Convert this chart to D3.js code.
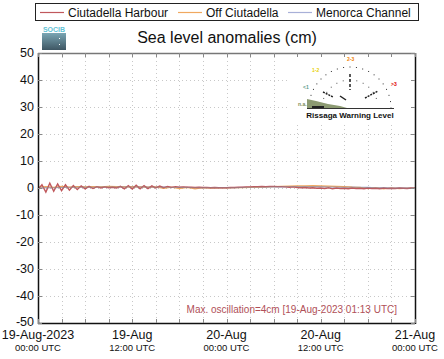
<!DOCTYPE html>
<html>
<head>
<meta charset="utf-8">
<script src="https://cdn.jsdelivr.net/npm/d3@7"></script>
<style>
  html, body { margin: 0; padding: 0; background: #fff; }
  svg { display: block; font-family: "Liberation Sans", Arial, sans-serif; }
</style>
</head>
<body>
<svg id="chart" width="444" height="359"></svg>
<script>
// series names and colours
const seriesNames = ['Ciutadella Harbour', 'Off Ciutadella', 'Menorca Channel']
const seriesColors = ['#c0585c', '#f0a860', '#a8b0d8']

// hours since 19-Aug-2023 00:00 UTC
const harbourHours = d3.range(0, 48.01, 0.5)
const hourlyHours = d3.range(0, 49, 1)

// sea level anomaly (cm), half-hourly
const harbourLevel = [
  -0.5, 1.2, -1.5, 1.8, -1.2, 1.5,
  -1.0, 1.2, -0.8, 0.9, -0.6, 0.8,
  -0.3, 0.6, -0.2, 0.5, 0.0, 0.4,
  0.1, 0.3, 0.0, 0.6, -0.3, 0.9,
  -0.4, 1.0, -0.3, 0.9, -0.2, 0.8,
  0.0, 0.7, 0.1, 0.6, 0.2, 0.5,
  0.3, 0.4, 0.3, 0.3, 0.2, 0.3,
  0.2, 0.2, 0.1, 0.2, 0.1, 0.1,
  0.1, 0.2, 0.2, 0.3, 0.3, 0.4,
  0.4, 0.5, 0.5, 0.6, 0.5, 0.6,
  0.6, 0.5, 0.5, 0.4, 0.3, 0.4,
  0.2, 0.1, 0.2, 0.0, 0.1, -0.1,
  0.0, -0.2, 0.1, -0.3, 0.0, -0.2,
  -0.1, -0.3, 0.0, -0.2, -0.1, -0.3,
  0.0, -0.2, -0.1, -0.3, 0.0, -0.2,
  -0.1, -0.2, 0.0, -0.1, -0.2, 0.0,
  -0.1
]
// hourly
const offLevel = [
  0.3, 0.5, 0.2, 0.6, 0.3, 0.5,
  0.4, 0.5, 0.4, 0.6, 0.5, 0.4,
  0.5, 0.4, 0.3, 0.4, -0.1, 0.3,
  -0.2, 0.2, -0.3, 0.1, -0.1, 0.0,
  0.0, 0.1, 0.1, 0.2, 0.3, 0.4,
  0.5, 0.6, 0.7, 0.8, 0.8, 0.9,
  0.8, 0.7, 0.6, 0.5, 0.3, 0.2,
  -0.2, 0.1, -0.3, 0.0, -0.2, -0.1,
  0.0
]
const channelLevel = [
  0.0, 0.1, 0.1, 0.2, 0.2, 0.3,
  0.3, 0.3, 0.4, 0.4, 0.4, 0.4,
  0.4, 0.4, 0.3, 0.3, 0.3, 0.2,
  0.2, 0.2, 0.1, 0.1, 0.1, 0.1,
  0.1, 0.1, 0.2, 0.2, 0.3, 0.3,
  0.4, 0.4, 0.5, 0.5, 0.5, 0.5,
  0.5, 0.4, 0.4, 0.3, 0.3, 0.2,
  0.2, 0.1, 0.1, 0.0, 0.0, 0.0,
  0.0
]

const yTicks = [-50, -40, -30, -20, -10, 0, 10, 20, 30, 40, 50]
const xTicks = [0, 12, 24, 36, 48]
const xTickDates = ['19-Aug-2023', '19-Aug', '20-Aug', '20-Aug', '21-Aug']
const xTickTimes = ['00:00 UTC', '12:00 UTC', '00:00 UTC', '12:00 UTC', '00:00 UTC']
const minorHours = d3.range(0, 49, 3)

const titleText = 'Sea level anomalies (cm)'
const noteText = 'Max. oscillation=4cm [19-Aug-2023 01:13 UTC]'

const svg = d3.select('#chart')
const margin = {left: 38, right: 29, top: 53, bottom: 36}
const W = 444, H = 359

const x = d3.scaleLinear().domain([0, 48]).range([margin.left, W - margin.right])
const y = d3.scaleLinear().domain([-50, 50]).range([H - margin.bottom, margin.top])

// grid
const grid = svg.append('g').attr('stroke', '#c8c8c8').attr('stroke-width', 1).attr('stroke-dasharray', '1,3')
grid.selectAll('.gx').data(minorHours.slice(1, -1)).join('line')
  .attr('x1', d => Math.round(x(d)) + 0.5).attr('x2', d => Math.round(x(d)) + 0.5)
  .attr('y1', y(50)).attr('y2', y(-50))
grid.selectAll('.gy').data(yTicks.slice(1, -1)).join('line')
  .attr('y1', d => Math.round(y(d)) + 0.5).attr('y2', d => Math.round(y(d)) + 0.5)
  .attr('x1', x(0)).attr('x2', x(48))

// series
const line = d3.line().x(d => x(d[0])).y(d => y(d[1]))
const seriesData = [
  d3.zip(harbourHours, harbourLevel),
  d3.zip(hourlyHours, offLevel),
  d3.zip(hourlyHours, channelLevel)
]
const drawOrder = [2, 1, 0]
svg.append('g').selectAll('path').data(drawOrder).join('path')
  .attr('d', i => line(seriesData[i]))
  .attr('fill', 'none')
  .attr('stroke', i => seriesColors[i])
  .attr('stroke-width', i => i === 0 ? 1.4 : 1.2)
svg.append('path')
  .attr('d', line(seriesData[2]))
  .attr('fill', 'none').attr('stroke', '#8a8c9a').attr('stroke-width', 0.8).attr('opacity', 0.7)

// inset: rissaga warning gauge (decorative)
const gx = 350, gy = 108, gr = 41
const gauge = svg.append('g')
gauge.append('rect').attr('x', 288).attr('y', 55).attr('width', 126).attr('height', 68).attr('fill', '#fff')
const arcAngles = d3.range(-90, 91, 9)
gauge.selectAll('.dot').data(arcAngles).join('rect')
  .attr('x', d => gx + gr * Math.sin(d * Math.PI / 180) - 0.5)
  .attr('y', d => gy - gr * Math.cos(d * Math.PI / 180) - 0.5)
  .attr('width', 1).attr('height', 1).attr('fill', '#333')
gauge.selectAll('.dot2').data(d3.range(-70, 71, 14)).join('rect')
  .attr('x', d => gx + 28 * Math.sin(d * Math.PI / 180) - 0.5)
  .attr('y', d => gy - 28 * Math.cos(d * Math.PI / 180) - 0.5)
  .attr('width', 1).attr('height', 1).attr('fill', '#555')
gauge.append('path')
  .attr('d', `M${gx - 43},${gy - 9} L${gx - 34},${gy - 7} L${gx - 22},${gy - 4} L${gx - 10},${gy - 2} L${gx - 3},${gy} L${gx - 43},${gy} Z`)
  .attr('fill', '#8c9a72')
gauge.append('rect').attr('x', gx - 38).attr('y', gy - 2).attr('width', 12).attr('height', 2).attr('fill', '#222')
gauge.append('line').attr('x1', gx - 43).attr('x2', gx + 44).attr('y1', gy + 0.5).attr('y2', gy + 0.5)
  .attr('stroke', '#333').attr('stroke-width', 1)
gauge.append('line').attr('x1', gx - 10).attr('y1', gy - 12).attr('x2', gx - 4).attr('y2', gy - 8)
  .attr('stroke', '#222').attr('stroke-width', 1.5)
gauge.append('line').attr('x1', gx - 27).attr('y1', gy - 16).attr('x2', gx - 17).attr('y2', gy - 11)
  .attr('stroke', '#222').attr('stroke-width', 1.5).attr('stroke-dasharray', '2,1')
gauge.append('line').attr('x1', gx + 15).attr('y1', gy - 10).attr('x2', gx + 28).attr('y2', gy - 17)
  .attr('stroke', '#222').attr('stroke-width', 1.5).attr('stroke-dasharray', '2,1')
gauge.append('line').attr('x1', gx).attr('y1', gy - 34).attr('x2', gx).attr('y2', gy - 18)
  .attr('stroke', '#222').attr('stroke-width', 1.5).attr('stroke-dasharray', '3,2')
const gaugeLabels = [
  {t: 'n.a.', dx: -52, dy: -2, c: '#7a8a5a'},
  {t: '<1', dx: -47, dy: -19, c: '#5a9a8a'},
  {t: '1-2', dx: -38, dy: -36, c: '#e8d000'},
  {t: '2-3', dx: -3, dy: -47, c: '#f08000'},
  {t: '>3', dx: 41, dy: -22, c: '#e00000'}
]
gauge.selectAll('.gl').data(gaugeLabels).join('text')
  .attr('x', d => gx + d.dx).attr('y', d => gy + d.dy)
  .attr('font-size', 5).attr('font-weight', 'bold').attr('fill', d => d.c).text(d => d.t)
gauge.append('text').attr('x', gx).attr('y', gy + 10).attr('text-anchor', 'middle')
  .attr('font-size', 8).attr('font-weight', 'bold').attr('fill', '#111').text('Rissaga Warning Level')

// frame
svg.append('line').attr('x1', x(0)).attr('x2', x(48)).attr('y1', y(50) + 0.5).attr('y2', y(50) + 0.5)
  .attr('stroke', '#777').attr('stroke-width', 1.5)
svg.append('line').attr('x1', x(0)).attr('x2', x(48)).attr('y1', y(-50) + 0.5).attr('y2', y(-50) + 0.5)
  .attr('stroke', '#111').attr('stroke-width', 1.5)
svg.append('line').attr('x1', x(0) + 0.5).attr('x2', x(0) + 0.5).attr('y1', y(50)).attr('y2', y(-50) + 1)
  .attr('stroke', '#111').attr('stroke-width', 1.5)
svg.append('line').attr('x1', x(48) + 0.5).attr('x2', x(48) + 0.5).attr('y1', y(50)).attr('y2', y(-50) + 1)
  .attr('stroke', '#111').attr('stroke-width', 1.5)

// inner ticks
const ticks = svg.append('g').attr('stroke', '#888').attr('stroke-width', 1)
ticks.selectAll('.tt').data(minorHours).join('line')
  .attr('x1', d => Math.round(x(d)) + 0.5).attr('x2', d => Math.round(x(d)) + 0.5)
  .attr('y1', y(50)).attr('y2', y(50) + 4)
ticks.selectAll('.tb').data(minorHours).join('line')
  .attr('x1', d => Math.round(x(d)) + 0.5).attr('x2', d => Math.round(x(d)) + 0.5)
  .attr('y1', y(-50)).attr('y2', y(-50) - 4)
ticks.selectAll('.tl').data(yTicks).join('line')
  .attr('x1', x(0)).attr('x2', x(0) + 4)
  .attr('y1', d => Math.round(y(d)) + 0.5).attr('y2', d => Math.round(y(d)) + 0.5)
ticks.selectAll('.tr').data(yTicks).join('line')
  .attr('x1', x(48)).attr('x2', x(48) - 4)
  .attr('y1', d => Math.round(y(d)) + 0.5).attr('y2', d => Math.round(y(d)) + 0.5)

// y labels
svg.append('g').selectAll('text').data(yTicks).join('text')
  .attr('x', margin.left - 4).attr('y', d => y(d) + (d === -50 ? 2.5 : 4))
  .attr('text-anchor', 'end').attr('font-size', 12.5).attr('fill', '#111')
  .text(d => d)

// x labels
const xl = svg.append('g').selectAll('g').data(xTicks).join('g')
  .attr('transform', d => `translate(${x(d)},0)`)
xl.append('text').attr('y', 339).attr('text-anchor', 'middle').attr('font-size', 12.5).attr('fill', '#111')
  .text((d, i) => xTickDates[i])
xl.append('text').attr('y', 350.5).attr('text-anchor', 'middle').attr('font-size', 9.5).attr('fill', '#111')
  .text((d, i) => xTickTimes[i])

// note
svg.append('text').attr('x', 397).attr('y', 313).attr('text-anchor', 'end')
  .attr('font-size', 10).attr('fill', '#b05058').text(noteText)

// title
svg.append('text').attr('x', 227).attr('y', 43).attr('text-anchor', 'middle')
  .attr('font-size', 16).attr('fill', '#111').text(titleText)

// logo
const grad = svg.append('defs').append('linearGradient').attr('id', 'lg').attr('x1', 0).attr('x2', 0).attr('y1', 0).attr('y2', 1)
grad.append('stop').attr('offset', 0).attr('stop-color', '#7aa6b4')
grad.append('stop').attr('offset', 1).attr('stop-color', '#3e5663')
svg.append('text').attr('x', 54).attr('y', 32).attr('text-anchor', 'middle').attr('font-size', 7)
  .attr('font-weight', 'bold').attr('fill', '#5fc3d6').text('SOCIB')
svg.append('rect').attr('x', 42).attr('y', 33).attr('width', 24).attr('height', 17).attr('fill', 'url(#lg)')
svg.append('rect').attr('x', 59).attr('y', 38).attr('width', 1).attr('height', 1).attr('fill', '#fff')
svg.append('rect').attr('x', 59).attr('y', 44).attr('width', 1).attr('height', 1).attr('fill', '#fff')

// legend
const legend = svg.append('g')
legend.append('rect').attr('x', 35.5).attr('y', 3.5).attr('width', 383).attr('height', 17)
  .attr('fill', '#fff').attr('stroke', '#222').attr('stroke-width', 1)
const legendX = [40, 178, 288]
const li = legend.selectAll('g').data(seriesNames).join('g')
  .attr('transform', (d, i) => `translate(${legendX[i]},12)`)
li.append('line').attr('x1', 0).attr('x2', 24).attr('y1', 0.5).attr('y2', 0.5)
  .attr('stroke', (d, i) => seriesColors[i]).attr('stroke-width', 1.2)
li.append('text').attr('x', 28).attr('y', 4.5).attr('font-size', 12).attr('fill', '#111').text(d => d)
</script>
</body>
</html>
